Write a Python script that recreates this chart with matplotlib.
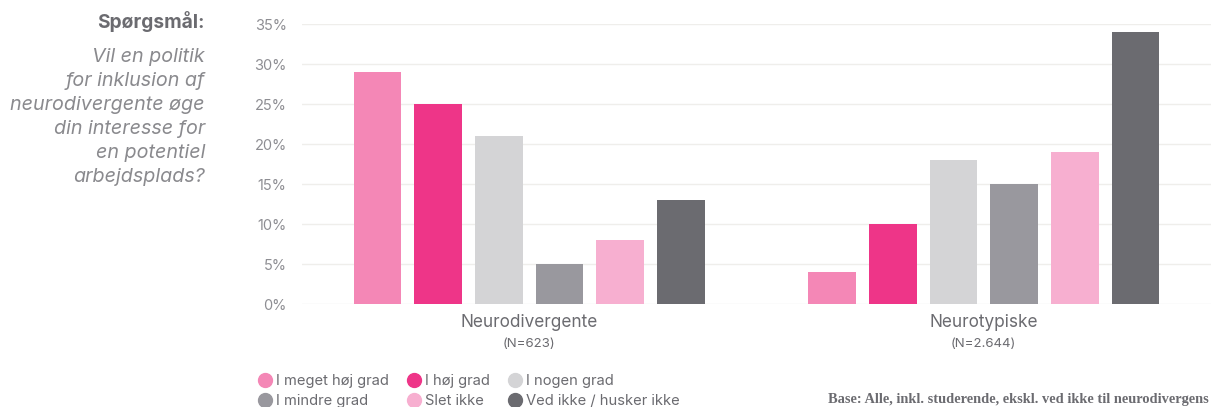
import matplotlib
matplotlib.use("Agg")
import matplotlib.pyplot as plt
from matplotlib.lines import Line2D

plt.rcParams['font.family'] = ['Inter', 'DejaVu Sans']

groups = ["Neurodivergente", "Neurotypiske"]
group_n = ["(N=623)", "(N=2.644)"]
answers = ["I meget høj grad", "I høj grad", "I nogen grad",
           "I mindre grad", "Slet ikke", "Ved ikke / husker ikke"]
values = {
  "Neurodivergente": [29, 25, 21, 5, 8, 13],
  "Neurotypiske": [4, 10, 18, 15, 19, 34],
}
colors = ["#F487B6", "#EE3588", "#D4D4D6", "#99989E", "#F7AFD0", "#6B6B70"]
question = ["Vil en politik", "for inklusion af", "neurodivergente øge",
            "din interesse for", "en potentiel", "arbejdsplads?"]
yticks = [0, 5, 10, 15, 20, 25, 30, 35]

text_col = "#6B6B70"
tick_col = "#8E8E93"

fig = plt.figure(figsize=(12.11, 4.07), dpi=100)
ax = fig.add_axes([0.2494, 0.253, 0.7506, 0.688])

pitch = 0.1335
width = 0.105
for g, grp in enumerate(groups):
  for i, v in enumerate(values[grp]):
    x = g + (i - 2.5) * pitch
    ax.bar(x, v, width=width, color=colors[i], zorder=3)

ax.set_xlim(-0.5, 1.5)
ax.set_ylim(0, 35)
ax.set_yticks(yticks)
ax.set_yticklabels([f"{t}%" for t in yticks], color=tick_col, fontsize=10.5)
ax.tick_params(axis='y', length=0, pad=11)
ax.set_xticks([])
ax.grid(axis='y', color="#EFEEEB", linewidth=1, zorder=0)
for s in ax.spines.values():
  s.set_visible(False)

for g, grp in enumerate(groups):
  ax.annotate(grp, xy=(g, 0), xycoords=('data', 'axes fraction'),
              xytext=(0, -13), textcoords='offset points',
              ha='center', va='center', fontsize=12.4, color=text_col)
  ax.annotate(group_n[g], xy=(g, 0), xycoords=('data', 'axes fraction'),
              xytext=(0, -28.5), textcoords='offset points',
              ha='center', va='center', fontsize=9.5, color=text_col)

# question text on the left
fig.text(205 / 1211, 1 - 22 / 407, "Spørgsmål:", ha='right', va='center',
         fontsize=13.8, fontweight='bold', color=text_col)
for k, line in enumerate(question):
  fig.text(205 / 1211, 1 - (57 + k * 24) / 407, line, ha='right', va='center',
           fontsize=14.2, style='italic', color="#8A8A8E")

# legend
handles = [Line2D([], [], marker='o', linestyle='none', markersize=10,
                  markerfacecolor=c, markeredgecolor=c) for c in colors]
order = [0, 3, 1, 4, 2, 5]
fig.legend([handles[i] for i in order], [answers[i] for i in order],
           loc='upper left', bbox_to_anchor=(259 / 1211, 1 - 374 / 407),
           ncol=3, frameon=False, fontsize=10.6, labelcolor=text_col,
           handlelength=0.8, handletextpad=0.35, columnspacing=1.3,
           borderpad=0, borderaxespad=0, labelspacing=0.4)

fig.text(1209 / 1211, 1 - 400 / 407,
         "Base: Alle, inkl. studerende, ekskl. ved ikke til neurodivergens",
         ha='right', va='center', fontsize=10.4, fontweight='bold',
         family='Liberation Serif', color=text_col)

fig.savefig("out.png", dpi=100)
